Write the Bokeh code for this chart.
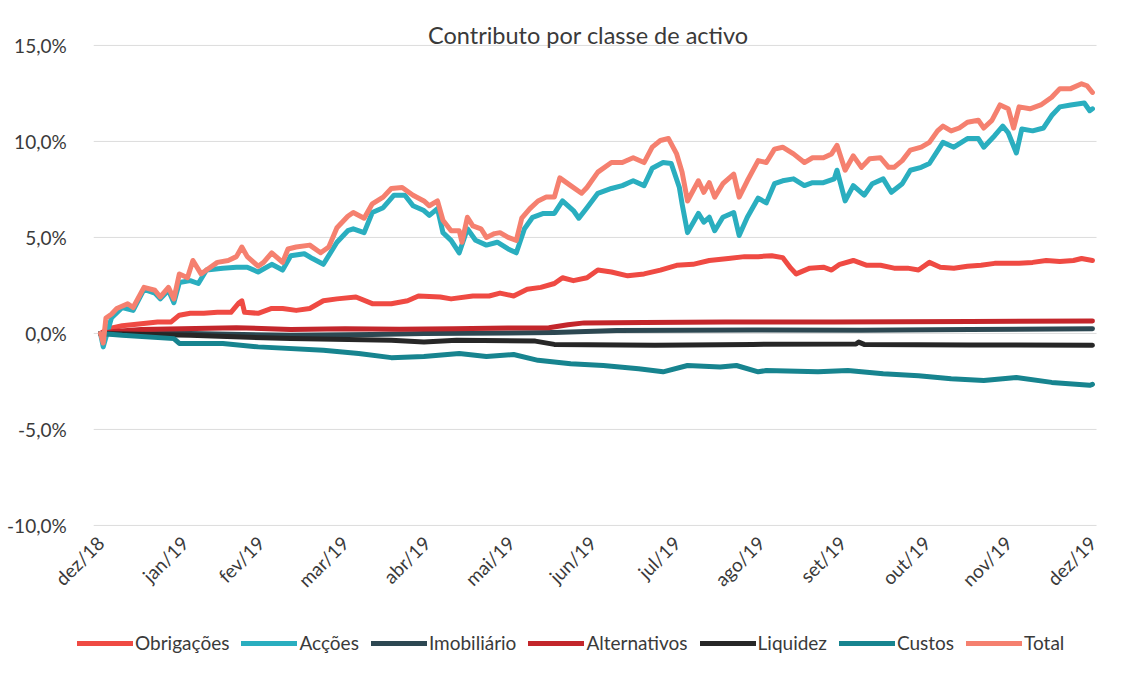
from bokeh.plotting import figure
from bokeh.models import FixedTicker, Legend, LegendItem, Label, Range1d
from bokeh.embed import file_html
from bokeh.resources import INLINE

# ---- data (days since 31/12/2018, contribution in %) ----
month_days = [0, 31, 59, 90, 120, 151, 181, 212, 243, 273, 304, 334, 365]
month_labels = ["dez/18", "jan/19", "fev/19", "mar/19", "abr/19", "mai/19", "jun/19",
                "jul/19", "ago/19", "set/19", "out/19", "nov/19", "dez/19"]
y_ticks = [-10, -5, 0, 5, 10, 15]
y_labels = ["-10,0%", "-5,0%", "0,0%", "5,0%", "10,0%", "15,0%"]

d_total = [0, 1, 2, 4, 6, 10, 12, 16, 20, 22, 25, 27, 29, 32, 34, 37, 39, 43, 47, 50, 52, 54,
           58, 60, 63, 67, 69, 72, 77, 81, 84, 87, 91, 93, 97, 100, 104, 107, 111, 115, 119,
           121, 124, 126, 129, 132, 133, 135, 137, 140, 142, 145, 147, 150, 153, 155, 158,
           161, 164, 167, 169, 173, 177, 179, 183, 188, 192, 196, 200, 203, 206, 209, 212,
           214, 216, 220, 222, 224, 226, 229, 233, 235, 238, 242, 245, 248, 251, 255, 259,
           262, 266, 269, 271, 274, 277, 280, 283, 287, 290, 292, 295, 298, 302, 305, 308,
           310, 313, 316, 319, 323, 325, 328, 331, 334, 336, 338, 342, 346, 350, 353, 357,
           361, 363, 365]
v_total = [0.0, -0.5, 0.8, 1.0, 1.3, 1.55, 1.35, 2.4, 2.25, 1.9, 2.4, 1.8, 3.1, 2.9, 3.8, 3.1,
           3.3, 3.7, 3.8, 4.0, 4.5, 4.0, 3.5, 3.7, 4.2, 3.7, 4.4, 4.5, 4.6, 4.2, 4.5, 5.5, 6.1,
           6.3, 6.0, 6.75, 7.1, 7.55, 7.6, 7.2, 6.9, 6.65, 6.9, 5.9, 5.35, 5.35, 4.75, 6.05,
           5.6, 5.45, 5.0, 5.2, 5.25, 5.0, 4.85, 6.0, 6.5, 6.9, 7.1, 7.1, 8.1, 7.7, 7.3, 7.6,
           8.4, 8.9, 8.9, 9.15, 8.9, 9.7, 10.05, 10.15, 9.35, 8.4, 6.9, 7.95, 7.35, 7.85, 7.1,
           7.8, 8.3, 7.1, 7.95, 9.0, 8.9, 9.6, 9.7, 9.35, 8.9, 9.15, 9.15, 9.35, 9.8, 8.5,
           9.25, 8.65, 9.1, 9.15, 8.65, 8.65, 9.0, 9.55, 9.7, 9.95, 10.55, 10.8, 10.55, 10.7,
           11.0, 11.1, 10.7, 11.1, 11.9, 11.7, 10.7, 11.8, 11.7, 11.9, 12.3, 12.75, 12.75,
           13.0, 12.9, 12.55]

d_accoes = [0, 1, 4, 8, 12, 16, 20, 22, 25, 27, 29, 33, 36, 39, 45, 50, 54, 58, 63, 67, 70,
            75, 78, 82, 87, 91, 93, 97, 100, 104, 108, 112, 115, 119, 121, 124, 126, 129, 132,
            135, 138, 142, 146, 150, 153, 156, 159, 163, 167, 170, 174, 176, 179, 183, 188,
            192, 196, 200, 203, 207, 210, 213, 214, 216, 220, 222, 224, 226, 229, 233, 235,
            238, 242, 245, 248, 251, 255, 259, 262, 266, 270, 271, 274, 277, 281, 284, 288,
            291, 295, 298, 302, 305, 310, 314, 319, 323, 325, 329, 332, 334, 337, 339, 343,
            347, 350, 353, 357, 362, 364, 365]
v_accoes = [0.0, -0.7, 0.8, 1.35, 1.2, 2.3, 2.1, 1.8, 2.25, 1.6, 2.65, 2.75, 2.6, 3.3, 3.4,
            3.45, 3.45, 3.2, 3.6, 3.3, 4.05, 4.15, 3.9, 3.6, 4.75, 5.35, 5.45, 5.25, 6.3, 6.55,
            7.2, 7.2, 6.65, 6.4, 6.15, 6.5, 5.25, 4.85, 4.2, 5.45, 4.85, 4.6, 4.75, 4.4, 4.2,
            5.45, 6.05, 6.25, 6.25, 6.9, 6.4, 6.0, 6.55, 7.3, 7.55, 7.7, 7.95, 7.7, 8.6, 8.9,
            8.85, 7.6, 6.75, 5.25, 6.25, 5.8, 6.05, 5.35, 6.05, 6.3, 5.1, 6.05, 7.05, 6.8, 7.8,
            7.95, 8.05, 7.7, 7.85, 7.85, 8.05, 8.5, 6.9, 7.7, 7.2, 7.8, 8.05, 7.35, 7.8, 8.5,
            8.65, 8.85, 9.95, 9.7, 10.15, 10.15, 9.7, 10.3, 10.8, 10.45, 9.4, 10.65, 10.55,
            10.7, 11.35, 11.8, 11.9, 12.0, 11.6, 11.7]

d_obrig = [0, 3, 8, 15, 21, 26, 29, 33, 38, 43, 48, 51, 52, 53, 58, 63, 67, 72, 77, 82, 87,
           94, 100, 107, 113, 117, 125, 129, 137, 143, 147, 152, 157, 162, 167, 170, 174, 179,
           183, 188, 194, 200, 206, 212, 218, 224, 231, 237, 242, 247, 251, 254, 256, 261,
           266, 269, 272, 277, 282, 287, 292, 297, 301, 305, 309, 314, 319, 324, 329, 334,
           338, 343, 348, 353, 358, 361, 365]
v_obrig = [0.0, 0.25, 0.4, 0.5, 0.6, 0.6, 0.95, 1.05, 1.05, 1.1, 1.1, 1.6, 1.7, 1.1, 1.05,
           1.3, 1.3, 1.2, 1.3, 1.7, 1.8, 1.9, 1.55, 1.55, 1.7, 1.95, 1.9, 1.8, 1.95, 1.95, 2.1,
           1.95, 2.3, 2.4, 2.6, 2.9, 2.75, 2.9, 3.3, 3.2, 3.0, 3.1, 3.3, 3.55, 3.6, 3.8, 3.9,
           4.0, 4.0, 4.05, 3.95, 3.4, 3.1, 3.4, 3.45, 3.3, 3.6, 3.8, 3.55, 3.55, 3.4, 3.4, 3.3,
           3.7, 3.45, 3.4, 3.5, 3.55, 3.65, 3.65, 3.65, 3.7, 3.8, 3.75, 3.8, 3.9, 3.8]

d_imob = [0, 20, 33, 70, 100, 119, 150, 167, 190, 240, 280, 320, 365]
v_imob = [0.0, 0.0, 0.0, -0.1, -0.05, 0.0, 0.02, 0.05, 0.15, 0.18, 0.17, 0.2, 0.25]

d_alt = [0, 5, 15, 30, 50, 70, 90, 110, 130, 150, 165, 172, 178, 200, 230, 270, 320, 365]
v_alt = [0.0, 0.1, 0.2, 0.25, 0.3, 0.2, 0.25, 0.22, 0.25, 0.28, 0.3, 0.45, 0.55, 0.57, 0.6,
         0.6, 0.62, 0.65]

d_liq = [0, 33, 70, 107, 119, 131, 160, 167, 204, 240, 278, 279, 281, 320, 365]
v_liq = [0.0, -0.1, -0.27, -0.36, -0.45, -0.36, -0.4, -0.57, -0.62, -0.57, -0.55, -0.45,
         -0.57, -0.6, -0.62]

d_custos = [0, 8, 27, 29, 45, 58, 82, 95, 107, 119, 132, 142, 152, 161, 173, 185, 198, 207,
            216, 228, 234, 242, 245, 264, 275, 288, 301, 313, 325, 337, 350, 364, 365]
v_custos = [0.0, -0.1, -0.27, -0.52, -0.52, -0.7, -0.88, -1.05, -1.26, -1.2, -1.05, -1.2,
            -1.1, -1.4, -1.58, -1.67, -1.84, -2.0, -1.67, -1.75, -1.67, -2.0, -1.93, -2.0,
            -1.93, -2.1, -2.2, -2.36, -2.45, -2.3, -2.55, -2.7, -2.65]

series = [
    ("Obrigações", d_obrig, v_obrig, "#ef4a43"),
    ("Acções", d_accoes, v_accoes, "#2aaebf"),
    ("Imobiliário", d_imob, v_imob, "#2d4852"),
    ("Alternativos", d_alt, v_alt, "#c3262b"),
    ("Liquidez", d_liq, v_liq, "#272727"),
    ("Custos", d_custos, v_custos, "#17848f"),
    ("Total", d_total, v_total, "#f5806f"),
]

FONT = "Lato"
TXT = "#3a3a3a"
X0, X1 = -2.5, 366.5  # horizontal extent of the value grid (days)

# the frame covers the whole figure; both axes are pinned inside it
p = figure(width=1105, height=658, output_backend="svg", toolbar_location=None,
           x_range=Range1d(-36.8, 369.8), y_range=Range1d(-16.93, 17.34),
           min_border_left=0, min_border_right=0, min_border_top=0,
           min_border_bottom=0)
p.outline_line_color = None
p.background_fill_color = "white"
p.border_fill_color = "white"
p.xgrid.grid_line_color = None
p.ygrid.grid_line_color = None

# horizontal value grid
p.segment(x0=[X0] * len(y_ticks), x1=[X1] * len(y_ticks), y0=y_ticks, y1=y_ticks,
          line_color="#dcdcdc", line_width=1)

items = []
for name, dd, vv, col in series:
    r = p.line(dd, vv, line_color=col, line_width=5, line_join="round", line_cap="round")
    items.append(LegendItem(label=name, renderers=[r]))

# axes
p.xaxis.fixed_location = -10
p.yaxis.fixed_location = X0
p.xaxis.ticker = FixedTicker(ticks=month_days)
p.xaxis.major_label_overrides = {d: l for d, l in zip(month_days, month_labels)}
p.xaxis.major_label_orientation = 0.785398
p.yaxis.ticker = FixedTicker(ticks=y_ticks)
p.yaxis.major_label_overrides = {t: l for t, l in zip(y_ticks, y_labels)}
for ax in (p.xaxis[0], p.yaxis[0]):
    ax.axis_line_color = None
    ax.major_tick_line_color = None
    ax.minor_tick_line_color = None
    ax.major_label_text_font = FONT
    ax.major_label_text_font_size = "19px"
    ax.major_label_text_color = TXT
p.yaxis.major_label_standoff = 21
p.xaxis.major_label_standoff = 8

title = Label(x=179.5, y=15.52, text="Contributo por classe de activo", text_font=FONT,
              text_font_size="23.5px", text_color=TXT, text_align="center",
              text_baseline="middle")
p.add_layout(title)

legend = Legend(items=items, orientation="horizontal", location=(77, 4),
                label_text_font=FONT, label_text_font_size="19px",
                label_text_color=TXT, glyph_width=56, glyph_height=20,
                label_standoff=2, spacing=12, border_line_color=None,
                background_fill_alpha=0, margin=0, padding=0)
p.add_layout(legend)

open("out.html", "w").write(file_html(p, INLINE))
